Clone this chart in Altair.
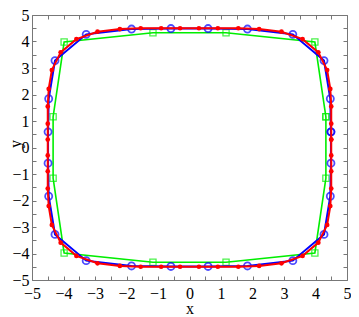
import altair as alt
import pandas as pd

red_x = [4.5, 4.5, 4.5, 4.47, 4.37, 4.09, 3.59, 2.92, 2.21, 1.55, 0.9, 0.3,
         -0.3, -0.9, -1.55, -2.21, -2.92, -3.59, -4.09, -4.37, -4.47, -4.5, -4.5, -4.5,
         -4.5, -4.5, -4.5, -4.47, -4.37, -4.09, -3.59, -2.92, -2.21, -1.55, -0.9, -0.3,
         0.3, 0.9, 1.55, 2.21, 2.92, 3.59, 4.09, 4.37, 4.47, 4.5, 4.5, 4.5]
red_y = [0.3, 0.9, 1.55, 2.21, 2.92, 3.59, 4.09, 4.37, 4.47, 4.5, 4.5, 4.5,
         4.5, 4.5, 4.5, 4.47, 4.37, 4.09, 3.59, 2.92, 2.21, 1.55, 0.9, 0.3,
         -0.3, -0.9, -1.55, -2.21, -2.92, -3.59, -4.09, -4.37, -4.47, -4.5, -4.5, -4.5,
         -4.5, -4.5, -4.5, -4.47, -4.37, -4.09, -3.59, -2.92, -2.21, -1.55, -0.9, -0.3]

blue_x = [4.49, 4.47, 4.27, 3.28, 1.84, 0.59,
          -0.59, -1.84, -3.28, -4.27, -4.47, -4.49,
          -4.49, -4.47, -4.27, -3.28, -1.84, -0.59,
          0.59, 1.84, 3.28, 4.27, 4.47, 4.49]
blue_y = [0.59, 1.84, 3.28, 4.27, 4.47, 4.49,
          4.49, 4.47, 4.27, 3.28, 1.84, 0.59,
          -0.59, -1.84, -3.28, -4.27, -4.47, -4.49,
          -4.49, -4.47, -4.27, -3.28, -1.84, -0.59]

green_x = [4.33, 3.98, 1.16, -1.16, -3.98, -4.33, -4.33, -3.98, -1.16, 1.16, 3.98, 4.33]
green_y = [1.16, 3.98, 4.33, 4.33, 3.98, 1.16, -1.16, -3.98, -4.33, -4.33, -3.98, -1.16]

int_ticks = [-5, -4, -3, -2, -1, 0, 1, 2, 3, 4, 5]
half_ticks = [-5, -4.5, -4, -3.5, -3, -2.5, -2, -1.5, -1, -0.5, 0,
              0.5, 1, 1.5, 2, 2.5, 3, 3.5, 4, 4.5, 5]

W, H = 315, 265
FONT = "Liberation Serif"
FRAME = "#777777"
FS = 16


def closed(xs, ys):
    n = len(xs)
    return pd.DataFrame({"x": xs + xs[:1], "y": ys + ys[:1], "i": list(range(n + 1))})


red_df = closed(red_x, red_y)
blue_df = closed(blue_x, blue_y)
green_df = closed(green_x, green_y)

xsc = alt.Scale(domain=[-5, 5], nice=False, zero=False)
ysc = alt.Scale(domain=[-5, 5], nice=False, zero=False)

x_lab = alt.Axis(orient="bottom", values=int_ticks, ticks=False, domain=False, grid=False,
                 labelPadding=5, labelFont=FONT, labelFontSize=FS, labelColor="black",
                 labelFlush=False, labelOverlap=False, format="d",
                 title="x", titleFont=FONT, titleFontSize=FS, titleFontWeight="normal",
                 titleColor="black", titleY=33, titleBaseline="alphabetic")
y_lab = alt.Axis(orient="left", values=int_ticks, ticks=False, domain=False, grid=False,
                 labelPadding=3, labelFont=FONT, labelFontSize=FS, labelColor="black",
                 labelFlush=False, labelOverlap=False, format="d",
                 title="y", titleFont=FONT, titleFontSize=FS, titleFontWeight="normal",
                 titleColor="black", titleX=-12, titleY=H / 2 - 4, titleAngle=-90,
                 titleAlign="center", titleBaseline="alphabetic")
x_tick_bottom = alt.Axis(orient="top", offset=-H, values=half_ticks, labels=False, domain=False,
                         grid=False, tickSize=4, tickColor=FRAME, title=None)
x_tick_top = alt.Axis(orient="bottom", offset=-H, values=half_ticks, labels=False, domain=False,
                      grid=False, tickSize=4, tickColor=FRAME, title=None)
y_tick_left = alt.Axis(orient="right", offset=-W, values=half_ticks, labels=False, domain=False,
                       grid=False, tickSize=4, tickColor=FRAME, title=None)
y_tick_right = alt.Axis(orient="left", offset=-W, values=half_ticks, labels=False, domain=False,
                        grid=False, tickSize=4, tickColor=FRAME, title=None)


def enc(chart, xa, ya):
    return chart.encode(
        x=alt.X("x:Q", scale=xsc, axis=xa),
        y=alt.Y("y:Q", scale=ysc, axis=ya),
        order=alt.Order("i:Q"),
    )


green_line = enc(alt.Chart(green_df).mark_line(color="#00ee00", strokeWidth=1.6), x_lab, y_lab)
green_pts = enc(alt.Chart(green_df).mark_point(shape="square", filled=False, color="#00ee00",
                                               size=38, strokeWidth=1.3), x_tick_bottom, y_tick_left)
blue_line = enc(alt.Chart(blue_df).mark_line(color="#0000ff", strokeWidth=2), x_tick_top, y_tick_right)
blue_pts = enc(alt.Chart(blue_df).mark_point(shape="circle", filled=False, color="#0000ff",
                                             size=50, strokeWidth=1.8), None, None)
red_line = enc(alt.Chart(red_df).mark_line(color="#ff0000", strokeWidth=2), None, None)
red_pts = enc(alt.Chart(red_df).mark_point(shape="circle", filled=True, color="#ff0000",
                                           size=22, opacity=1), None, None)

chart = alt.layer(green_line, green_pts, blue_line, blue_pts, red_line, red_pts).resolve_axis(
    x="independent", y="independent"
).properties(
    width=W, height=H,
    autosize=alt.AutoSizeParams(type="none"),
    padding={"left": 24, "top": 7, "right": 4, "bottom": 36},
    background="white",
).configure_view(stroke=FRAME, strokeWidth=1)

chart.save("out.html", embed_options={"renderer": "svg", "actions": False})
